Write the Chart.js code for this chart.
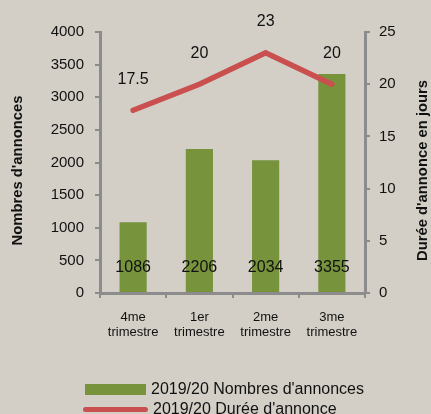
<!DOCTYPE html>
<html>
<head>
<meta charset="utf-8">
<script src="https://cdn.jsdelivr.net/npm/chart.js@4/dist/chart.umd.min.js"></script>
<style>
  html, body { margin: 0; padding: 0; background: #d3cfc6; }
  #wrap { position: relative; width: 431px; height: 414px; overflow: hidden; }
  canvas { display: block; }
  .legend { position: absolute; left: 83px; font-family: 'Liberation Sans', Arial, sans-serif; font-size: 16px; color: #111; }
  .legend div { display: flex; align-items: center; height: 20px; white-space: nowrap; }
  .legend .sw { display: inline-block; margin-right: 5px; }
</style>
</head>
<body>
<div id="wrap">
  <canvas id="chart" width="431" height="414"></canvas>
  <div class="legend" id="legend" style="top:379px"></div>
</div>
<script>
const categories = [['4me', 'trimestre'], ['1er', 'trimestre'], ['2me', 'trimestre'], ['3me', 'trimestre']];
const annonces = [1086, 2206, 2034, 3355];
const duree = [17.5, 20, 23, 20];
const leftTitle = "Nombres d'annonces";
const rightTitle = "Durée d'annonce en jours";
const barLabel = "2019/20 Nombres d'annonces";
const lineLabel = "2019/20 Durée d'annonce";

const green = '#77933c';
const red = '#c9504f';
const axisGray = '#8c8c8c';
const textColor = '#111';
const family = "'Liberation Sans', Arial, sans-serif";

// value labels + rotated axis titles
const labelsPlugin = {
  id: 'labelsPlugin',
  afterDatasetsDraw(chart) {
    const ctx = chart.ctx;
    const base = chart.scales.y.getPixelForValue(0);
    ctx.save();
    ctx.fillStyle = textColor;
    ctx.font = '16px ' + family;
    ctx.textAlign = 'center';
    ctx.textBaseline = 'middle';
    chart.getDatasetMeta(0).data.forEach((el, i) => {
      ctx.fillText(String(annonces[i]), el.x, base - 25);
    });
    chart.getDatasetMeta(1).data.forEach((el, i) => {
      ctx.fillText(String(duree[i]), el.x, el.y - 31);
    });

    const a = chart.chartArea;
    const midY = (a.top + a.bottom) / 2 + 8;
    ctx.font = 'bold 14.8px ' + family;
    ctx.translate(18, midY);
    ctx.rotate(-Math.PI / 2);
    ctx.fillText(leftTitle, 0, 0);
    ctx.rotate(Math.PI / 2);
    ctx.translate(-18, -midY);
    ctx.translate(423, midY);
    ctx.rotate(-Math.PI / 2);
    ctx.fillText(rightTitle, 0, 0);
    ctx.restore();
  }
};

const chart = new Chart(document.getElementById('chart'), {
  type: 'bar',
  data: {
    labels: categories,
    datasets: [{
      label: barLabel,
      data: annonces,
      backgroundColor: green,
      borderWidth: 0,
      yAxisID: 'y',
      categoryPercentage: 1,
      barPercentage: 0.41,
      order: 2
    }, {
      type: 'line',
      label: lineLabel,
      data: duree,
      borderColor: red,
      backgroundColor: red,
      borderWidth: 5.5,
      borderCapStyle: 'round',
      borderJoinStyle: 'miter',
      pointRadius: 0,
      tension: 0,
      yAxisID: 'y1',
      order: 1
    }]
  },
  options: {
    responsive: false,
    animation: false,
    layout: { padding: { top: 32, right: 0, bottom: 74, left: 0 } },
    plugins: {
      legend: { display: false },
      tooltip: { enabled: false }
    },
    scales: {
      x: {
        grid: { drawOnChartArea: false, color: axisGray, lineWidth: 2, tickLength: 5, offset: true },
        border: { color: axisGray, width: 3 },
        ticks: {
          color: textColor,
          padding: 12,
          maxRotation: 0,
          font: { family: family, size: 13, lineHeight: 1.15 }
        },
        afterFit: (s) => { s.height = 47; }
      },
      y: {
        position: 'left',
        min: 0,
        max: 4000,
        ticks: {
          stepSize: 500,
          color: textColor,
          padding: 11,
          font: { family: family, size: 15 },
          callback: (v) => String(v)
        },
        grid: { drawOnChartArea: false, color: axisGray, lineWidth: 2, tickLength: 5 },
        border: { color: axisGray, width: 3 },
        afterFit: (s) => { s.width = 100; }
      },
      y1: {
        position: 'right',
        min: 0,
        max: 25,
        ticks: {
          stepSize: 5,
          color: textColor,
          padding: 9,
          font: { family: family, size: 15 },
          callback: (v) => String(v)
        },
        grid: { drawOnChartArea: false, color: axisGray, lineWidth: 2, tickLength: 5 },
        border: { color: axisGray, width: 3 },
        afterFit: (s) => { s.width = 66; }
      }
    }
  },
  plugins: [labelsPlugin]
});

// legend built from the chart's datasets
const legendEl = document.getElementById('legend');
chart.data.datasets.forEach((ds) => {
  const row = document.createElement('div');
  const sw = document.createElement('span');
  sw.className = 'sw';
  if (ds.type === 'line') {
    sw.style.cssText = 'width:65px;height:5px;border-radius:3px;background:' + ds.borderColor + ';margin-left:0';
  } else {
    sw.style.cssText = 'width:61px;height:11px;background:' + ds.backgroundColor + ';margin-left:2px';
  }
  row.appendChild(sw);
  row.appendChild(document.createTextNode(ds.label));
  legendEl.appendChild(row);
});
</script>
</body>
</html>
